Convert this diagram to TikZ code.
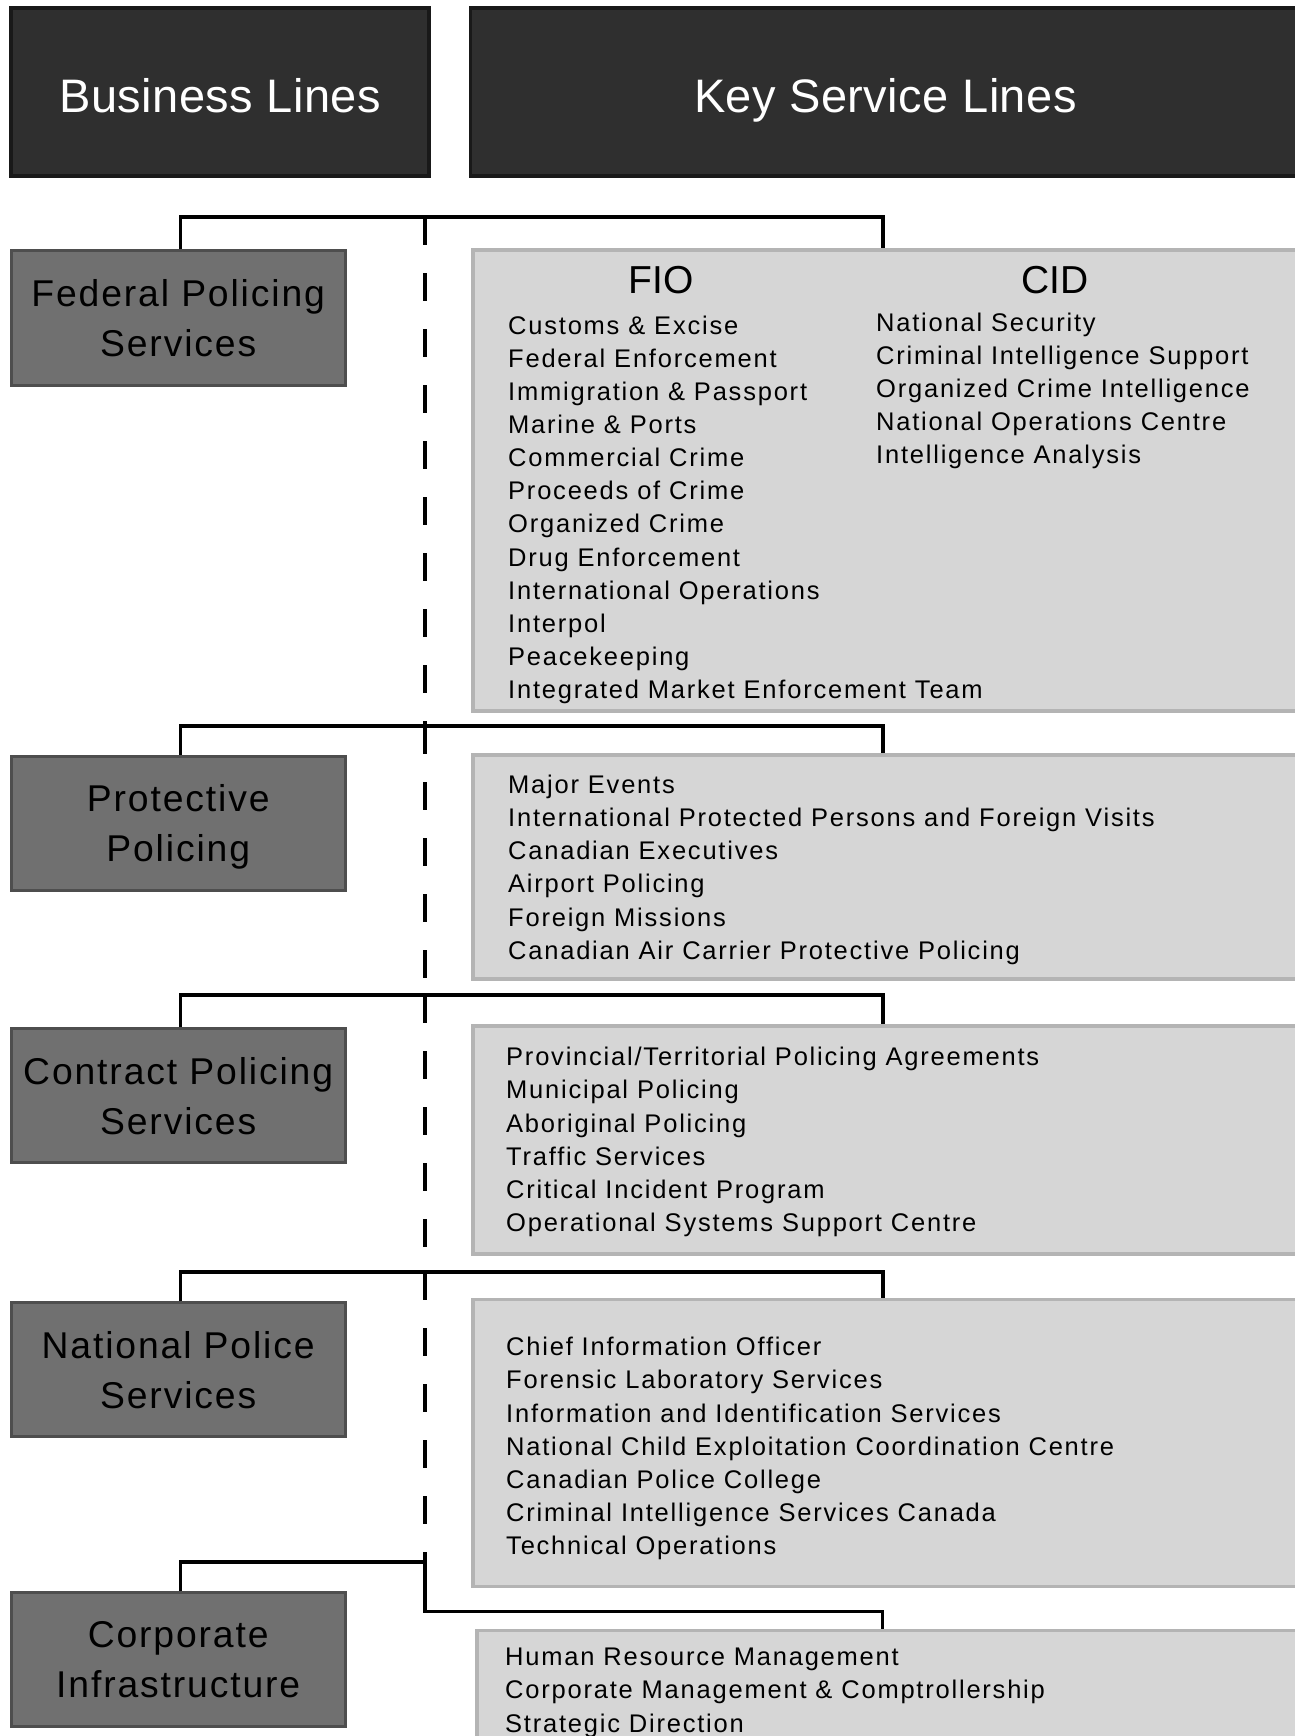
\documentclass[tikz,border=0pt]{standalone}
\usepackage{fontspec}
\setmainfont{Liberation Sans}
\newfontfamily\headfont[LetterSpace=1]{Liberation Sans}
\newfontfamily\boxfont[LetterSpace=5]{Liberation Sans}
\newfontfamily\itemfont[LetterSpace=7]{Liberation Sans}
\usepackage{tikz}

\definecolor{headgray}{HTML}{2F2F2F}
\definecolor{linegray}{HTML}{707070}
\definecolor{lineedge}{HTML}{4E4E4E}
\definecolor{listgray}{HTML}{D6D6D6}
\definecolor{listedge}{HTML}{B4B4B4}

\tikzset{
  headbox/.style={draw=black!90, line width=3.5pt, fill=headgray, text=white,
    font=\headfont\fontsize{47pt}{50pt}\selectfont, inner sep=0pt, minimum height=168pt,
    text height=47pt, text depth=6pt},
  linebox/.style={draw=lineedge, line width=3pt, fill=linegray, align=center,
    font=\boxfont\fontsize{37.3pt}{50pt}\selectfont, inner sep=0pt, text depth=0pt,
    minimum width=334pt, minimum height=134pt},
  listbox/.style={draw=listedge, line width=3.5pt, fill=listgray, inner sep=0pt},
  item/.style={anchor=base west, inner sep=0pt, font=\itemfont\fontsize{25.5pt}{33pt}\selectfont},
  coltitle/.style={anchor=base, inner sep=0pt, font=\fontsize{39pt}{40pt}\selectfont},
  conn/.style={line width=3.5pt},
  spine/.style={line width=3.5pt, dash pattern=on 28pt off 28pt},
}

\begin{document}
\begin{tikzpicture}[x=1pt, y=-1pt]
    \def\lh{33.15} % pas intre randuri
    \useasboundingbox (0,0) rectangle (1294,1736);
    % Capete de coloana
    \node[headbox, minimum width=418pt] (bl) at (220.2, 91.9) {Business Lines};
    \node[headbox, minimum width=830pt] (ksl) at (885.4, 91.9) {Key Service Lines};
    % Business lines
    \node[linebox] (fed)   at (178.2, 318)    {Federal Policing\\Services};
    \node[linebox] (prot)  at (178.2, 823)    {Protective\\Policing};
    \node[linebox] (contr) at (178.2, 1095.5) {Contract Policing\\Services};
    \node[linebox] (natl)  at (178.2, 1369.5) {National Police\\Services};
    \node[linebox] (corp)  at (178.2, 1659.2) {Corporate\\Infrastructure};
    % Casete cu key service lines
    \node[listbox, minimum width=827pt, minimum height=461pt] (kfed)   at (886.4, 480.4)  {};
    \node[listbox, minimum width=827pt, minimum height=224pt] (kprot)  at (886.4, 866.8)  {};
    \node[listbox, minimum width=827pt, minimum height=228pt] (kcontr) at (886.4, 1140)   {};
    \node[listbox, minimum width=827pt, minimum height=287pt] (knatl)  at (886.4, 1443.1) {};
    \node[listbox, minimum width=823pt, minimum height=130pt] (kcorp)  at (888.5, 1695.7) {};
    % Puncte de legatura
    \coordinate (j1) at (425, 217);
    \coordinate (j2) at (425, 726);
    \coordinate (j3) at (425, 995);
    \coordinate (j4) at (425, 1272);
    \coordinate (j5) at (425, 1562);
    \coordinate (b5) at (425, 1611.7);
    \coordinate (a1) at ([xshift=411.7pt]kfed.north west);
    \coordinate (a2) at ([xshift=411.7pt]kprot.north west);
    \coordinate (a3) at ([xshift=411.7pt]kcontr.north west);
    \coordinate (a4) at ([xshift=411.7pt]knatl.north west);
    \coordinate (a5) at ([xshift=407.4pt]kcorp.north west);
    % Conectori
    \draw[conn] ([xshift=2.2pt]fed.north) |- (j1) -| (a1);
    \draw[conn] ([xshift=2.2pt]prot.north) |- (j2) -| (a2);
    \draw[conn] ([xshift=2.2pt]contr.north) |- (j3) -| (a3);
    \draw[conn] ([xshift=2.2pt]natl.north) |- (j4) -| (a4);
    \draw[conn] ([xshift=2.2pt]corp.north) |- (j5) -- (b5) -| (a5);
    % Linia punctata
    \draw[spine] (j1) -- (j2);
    \draw[spine] (j2) -- (j3);
    \draw[spine] (j3) -- (j4);
    \draw[spine] (j4) -- (j5);
    % FIO / CID
    \node[coltitle] (fio) at (661, 293) {FIO};
    \node[coltitle] (cid) at (1055, 293) {CID};
    \foreach \t [count=\i from 0] in {Customs \& Excise, Federal Enforcement,
      Immigration \& Passport, Marine \& Ports, Commercial Crime, Proceeds of Crime,
      Organized Crime, Drug Enforcement, International Operations, Interpol,
      Peacekeeping, Integrated Market Enforcement Team} {
      \node[item] (fio\i) at (508, 334+\i*\lh) {\t};
    }
    \foreach \t [count=\i from 0] in {National Security, Criminal Intelligence Support,
      Organized Crime Intelligence, National Operations Centre, Intelligence Analysis} {
      \node[item] (cid\i) at (876, 331+\i*\lh) {\t};
    }
    % Protective
    \foreach \t [count=\i from 0] in {Major Events,
      International Protected Persons and Foreign Visits, Canadian Executives,
      Airport Policing, Foreign Missions, Canadian Air Carrier Protective Policing} {
      \node[item] (prot\i) at (508, 793.4+\i*\lh) {\t};
    }
    % Contract
    \foreach \t [count=\i from 0] in {Provincial/Territorial Policing Agreements,
      Municipal Policing, Aboriginal Policing, Traffic Services,
      Critical Incident Program, Operational Systems Support Centre} {
      \node[item] (contr\i) at (506, 1065.7+\i*\lh) {\t};
    }
    % National
    \foreach \t [count=\i from 0] in {Chief Information Officer, Forensic Laboratory Services,
      Information and Identification Services, National Child Exploitation Coordination Centre,
      Canadian Police College, Criminal Intelligence Services Canada, Technical Operations} {
      \node[item] (natl\i) at (506, 1355.7+\i*\lh) {\t};
    }
    % Corporate
    \foreach \t [count=\i from 0] in {Human Resource Management,
      Corporate Management \& Comptrollership, Strategic Direction} {
      \node[item] (corp\i) at (505, 1665.7+\i*\lh) {\t};
    }
\end{tikzpicture}
\end{document}
